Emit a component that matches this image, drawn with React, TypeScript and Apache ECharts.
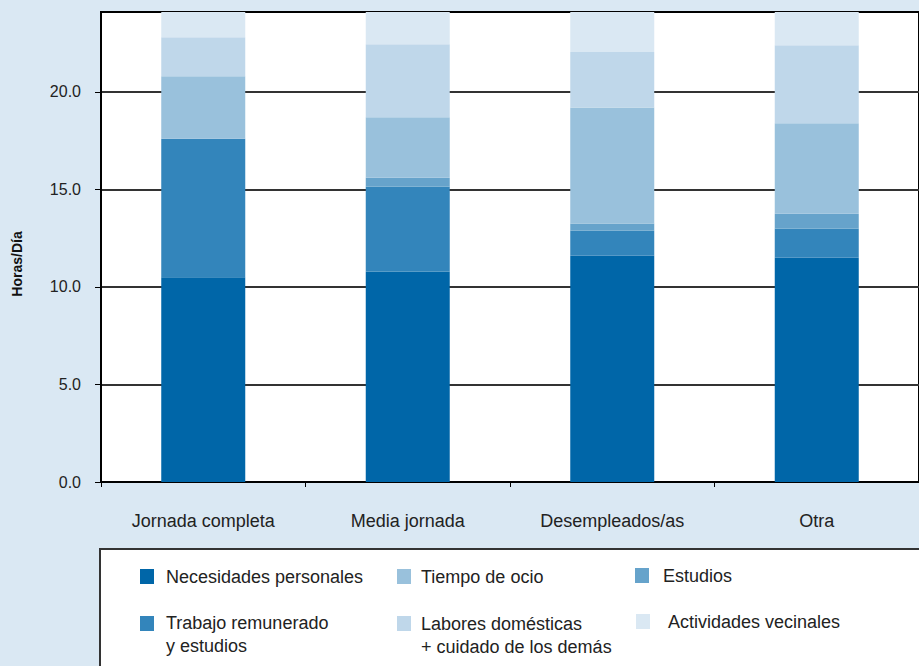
import React, { useEffect, useRef } from "react";
import * as echarts from "echarts";

const categories = ["Jornada completa", "Media jornada", "Desempleados/as", "Otra"];
const seriesNames = [
  "Necesidades personales",
  "Trabajo remunerado y estudios",
  "Estudios",
  "Tiempo de ocio",
  "Labores domésticas + cuidado de los demás",
  "Actividades vecinales",
];
const necesidades = [10.5, 10.8, 11.6, 11.5];
const trabajo = [7.1, 4.35, 1.3, 1.5];
const estudios = [0, 0.45, 0.35, 0.75];
const ocio = [3.2, 3.1, 5.95, 4.65];
const labores = [2.0, 3.75, 2.85, 4.0];
const actividades = [1.3, 1.65, 2.05, 1.7];
const yTicks = [0, 5, 10, 15, 20];
const yAxisName = "Horas/Día";
const legendLabels = [
  "Necesidades personales",
  "Trabajo remunerado\ny estudios",
  "Estudios",
  "Tiempo de ocio",
  "Labores domésticas\n+ cuidado de los demás",
  "Actividades vecinales",
];

const colors = ["#0066a8", "#3385bb", "#66a3cb", "#99c1dc", "#bfd7ea", "#dae8f3"];
const FONT = "Liberation Sans, Arial, sans-serif";

export default function App() {
  const ref = useRef<HTMLDivElement>(null);
  useEffect(() => {
    if (!ref.current) return;
    const chart = echarts.init(ref.current, undefined, { renderer: "svg" });
    const data = [necesidades, trabajo, estudios, ocio, labores, actividades];
    // legend layout: [seriesIndex, squareX, squareY, textX, textY]
    const legendLayout: [number, number, number, number, number][] = [
      [0, 140, 569, 166, 577],
      [3, 397, 569, 421, 577],
      [2, 635, 568, 663, 576],
      [1, 140, 616, 166, 623],
      [4, 397, 616, 421, 624],
      [5, 636, 614, 668, 622],
    ];
    const legendGraphics: any[] = [];
    legendLayout.forEach(([si, sx, sy, tx, ty]) => {
      legendGraphics.push({
        type: "rect",
        shape: { x: sx, y: sy, width: 14, height: 15 },
        style: { fill: colors[si] },
        z: 10,
      });
      legendGraphics.push({
        type: "text",
        x: tx,
        y: ty - 11.5,
        style: {
          text: legendLabels[si],
          font: `18px ${FONT}`,
          fill: "#222",
          align: "left",
          verticalAlign: "top",
          lineHeight: 23,
        },
        z: 10,
      });
    });
    chart.setOption({
      animation: false,
      backgroundColor: "#dae8f3",
      grid: {
        left: 101,
        top: 12,
        right: -4,
        bottom: 184,
        show: true,
        backgroundColor: "#ffffff",
        borderColor: "#000",
        borderWidth: 2,
        containLabel: false,
      },
      xAxis: {
        type: "category",
        data: categories,
        boundaryGap: true,
        axisLine: { show: true, lineStyle: { color: "#000", width: 2 } },
        axisTick: { show: true, length: 5, lineStyle: { color: "#000", width: 1 } },
        axisLabel: { margin: 30, color: "#222", fontSize: 18, fontFamily: FONT },
        splitLine: { show: false },
      },
      yAxis: {
        type: "value",
        min: 0,
        max: 24.1,
        interval: 5,
        axisLine: { show: true, lineStyle: { color: "#000", width: 2 } },
        axisTick: {
          show: true,
          length: 6,
          customValues: yTicks,
          lineStyle: { color: "#000", width: 1 },
        },
        axisLabel: {
          margin: 20,
          color: "#222",
          fontSize: 16,
          fontFamily: FONT,
          customValues: yTicks,
          formatter: (v: number) => v.toFixed(1),
        },
        splitLine: { show: true, lineStyle: { color: "#333", width: 1.8 } },
      },
      series: data.map((d, i) => ({
        type: "bar",
        name: seriesNames[i],
        stack: "total",
        data: d,
        barWidth: 84,
        itemStyle: { color: colors[i] },
        emphasis: { disabled: true },
      })),
      graphic: [
        {
          type: "text",
          x: 17,
          y: 264,
          rotation: Math.PI / 2,
          style: {
            text: yAxisName,
            font: `bold 14px ${FONT}`,
            fill: "#111",
            align: "center",
            verticalAlign: "middle",
          },
        },
        {
          type: "rect",
          shape: { x: 100, y: 549, width: 840, height: 140 },
          style: { fill: "#fff", stroke: "#333", lineWidth: 2 },
          z: 5,
        },
        ...legendGraphics,
      ],
    });
    return () => chart.dispose();
  }, []);
  return (
    <div
      ref={ref}
      style={{ position: "fixed", left: 0, top: 0, width: 919, height: 666 }}
    />
  );
}
